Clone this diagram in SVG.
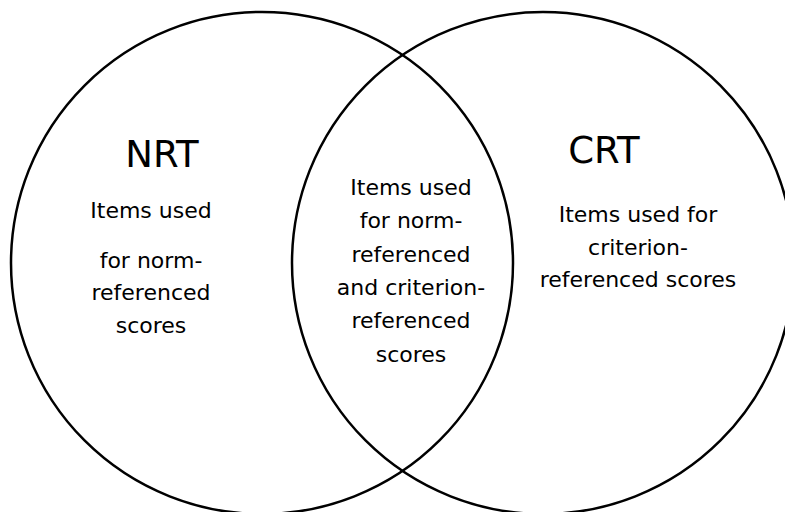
<svg xmlns="http://www.w3.org/2000/svg" width="785" height="512" viewBox="0 0 785 512">
<style>
.c{fill:none;stroke:#000;stroke-width:2.5}
text{font-family:"Comic Sans MS","DejaVu Sans",sans-serif;fill:#000;text-anchor:middle}
.h{font-size:37px}
.t{font-size:22px}
</style>
<rect width="785" height="512" fill="#fff"/>
<g id="nrt">
<circle class="c" cx="262" cy="263" r="251"/>
<text class="h" x="162" y="167">NRT</text>
<text class="t" x="151" y="218">Items used</text>
<text class="t" x="151" y="268">for norm-</text>
<text class="t" x="151" y="300">referenced</text>
<text class="t" x="151" y="333">scores</text>
</g>
<g id="crt">
<circle class="c" cx="543" cy="263" r="251"/>
<text class="h" x="604" y="163">CRT</text>
<text class="t" x="638" y="222">Items used for</text>
<text class="t" x="638" y="255">criterion-</text>
<text class="t" x="638" y="287">referenced scores</text>
</g>
<g id="overlap">
<text class="t" x="411" y="195">Items used</text>
<text class="t" x="411" y="228">for norm-</text>
<text class="t" x="411" y="262">referenced</text>
<text class="t" x="411" y="295">and criterion-</text>
<text class="t" x="411" y="328">referenced</text>
<text class="t" x="411" y="362">scores</text>
</g>
<g id="connectors"></g>
</svg>
